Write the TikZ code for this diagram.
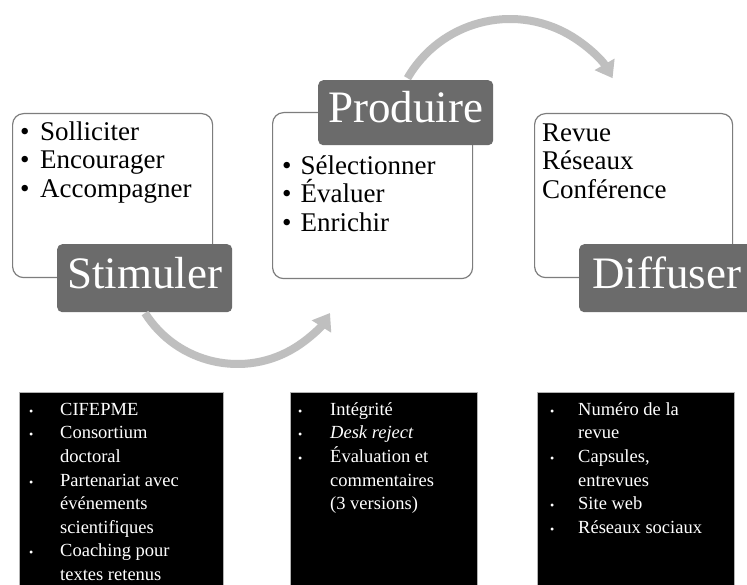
\documentclass[tikz,border=0pt]{standalone}
\usepackage{fontspec}
\setmainfont{Liberation Serif}
\usetikzlibrary{arrows.meta}
\definecolor{dkbox}{RGB}{107,107,107}
\definecolor{arrowgray}{RGB}{191,191,191}
\definecolor{edgegray}{RGB}{125,125,125}
\newcommand\wbul[1]{\makebox[#1][l]{•}}
\newcommand\sbul[1]{\makebox[#1][l]{\fontsize{12}{12}\selectfont •}}
\newcommand\bigtop{\rule{0pt}{20pt}}
\newcommand\smalltop{\rule{0pt}{16.5pt}}
\begin{document}
\begin{tikzpicture}[x=1pt,y=1pt,
  whitebox/.style={draw=edgegray, line width=1.2pt, rounded corners=11pt, fill=white, inner sep=0pt, anchor=north west},
  darkbox/.style={fill=dkbox, rounded corners=5pt, text=white, inner sep=0pt, anchor=north west,
    font=\fontsize{45}{50}\selectfont, text height=30pt, text depth=10pt},
  blackbox/.style={fill=black, draw=gray!60, line width=0.6pt, inner sep=0pt, anchor=north west},
  bigtxt/.style={inner sep=0pt, anchor=north west, align=left, font=\fontsize{27}{28.6}\selectfont},
  smalltxt/.style={inner sep=0pt, anchor=north west, align=left, text=white, font=\fontsize{18.5}{23.6}\selectfont},
  cyclearrow/.style={draw=arrowgray, line width=8pt, -{Triangle[width=22pt,length=16pt]}}]
\useasboundingbox (0,0) rectangle (747,-585);
\clip (0,0) rectangle (747,-585);
\fill[white] (0,0) rectangle (747,-585);

% white boxes
\node[whitebox, minimum width=200pt, minimum height=164pt] (sw) at (12,-113) {};
\node[whitebox, minimum width=200pt, minimum height=166pt] (pw) at (272,-112) {};
\node[whitebox, minimum width=198pt, minimum height=164pt] (dw) at (534,-113) {};

% lists in white boxes
\node[bigtxt] (sl) at (20,-120) {\bigtop\wbul{20pt}Solliciter\\\wbul{20pt}Encourager\\\wbul{20pt}Accompagner};
\node[bigtxt] (pl) at (282,-154) {\bigtop\wbul{18.5pt}Sélectionner\\\wbul{18.5pt}Évaluer\\\wbul{18.5pt}Enrichir};
\node[bigtxt] (dl) at (542,-121) {\bigtop Revue\\Réseaux\\Conférence};

% dark title boxes
\node[darkbox, minimum width=175pt, minimum height=68pt] (st) at (57,-244) {Stimuler};
\node[darkbox, minimum width=175pt, minimum height=65pt] (pr) at (318,-80) {Produire};
\node[darkbox, minimum width=175pt, minimum height=68pt] (di) at (579,-244) {Diffuser};

% arrows
\coordinate (a1s) at (145,-313);
\coordinate (a2s) at (407.5,-78.2);
\draw[cyclearrow] (a1s) arc[start angle=212.27, end angle=327.73, radius=109.4];
\draw[cyclearrow] (a2s) arc[start angle=150, end angle=30, radius=118.4];

% black boxes
\node[blackbox, minimum width=204pt, minimum height=210pt] (sb) at (19,-392) {};
\node[blackbox, minimum width=187pt, minimum height=210pt] (pb) at (290,-392) {};
\node[blackbox, minimum width=197pt, minimum height=210pt] (db) at (537,-392) {};

\node[smalltxt] (sbl) at (29,-398.5) {\smalltop\sbul{31pt}CIFEPME\\
\sbul{31pt}Consortium\\\hspace*{31pt}doctoral\\
\sbul{31pt}Partenariat avec\\\hspace*{31pt}événements\\\hspace*{31pt}scientifiques\\
\sbul{31pt}Coaching pour\\\hspace*{31pt}textes retenus};
\node[smalltxt] (pbl) at (298,-398.5) {\smalltop\sbul{32pt}Intégrité\\
\sbul{32pt}\textit{Desk reject}\\
\sbul{32pt}Évaluation et\\\hspace*{32pt}commentaires\\\hspace*{32pt}(3 versions)};
\node[smalltxt] (dbl) at (550,-398.5) {\smalltop\sbul{28pt}Numéro de la\\\hspace*{28pt}revue\\
\sbul{28pt}Capsules,\\\hspace*{28pt}entrevues\\
\sbul{28pt}Site web\\
\sbul{28pt}Réseaux sociaux};
\end{tikzpicture}
\end{document}
